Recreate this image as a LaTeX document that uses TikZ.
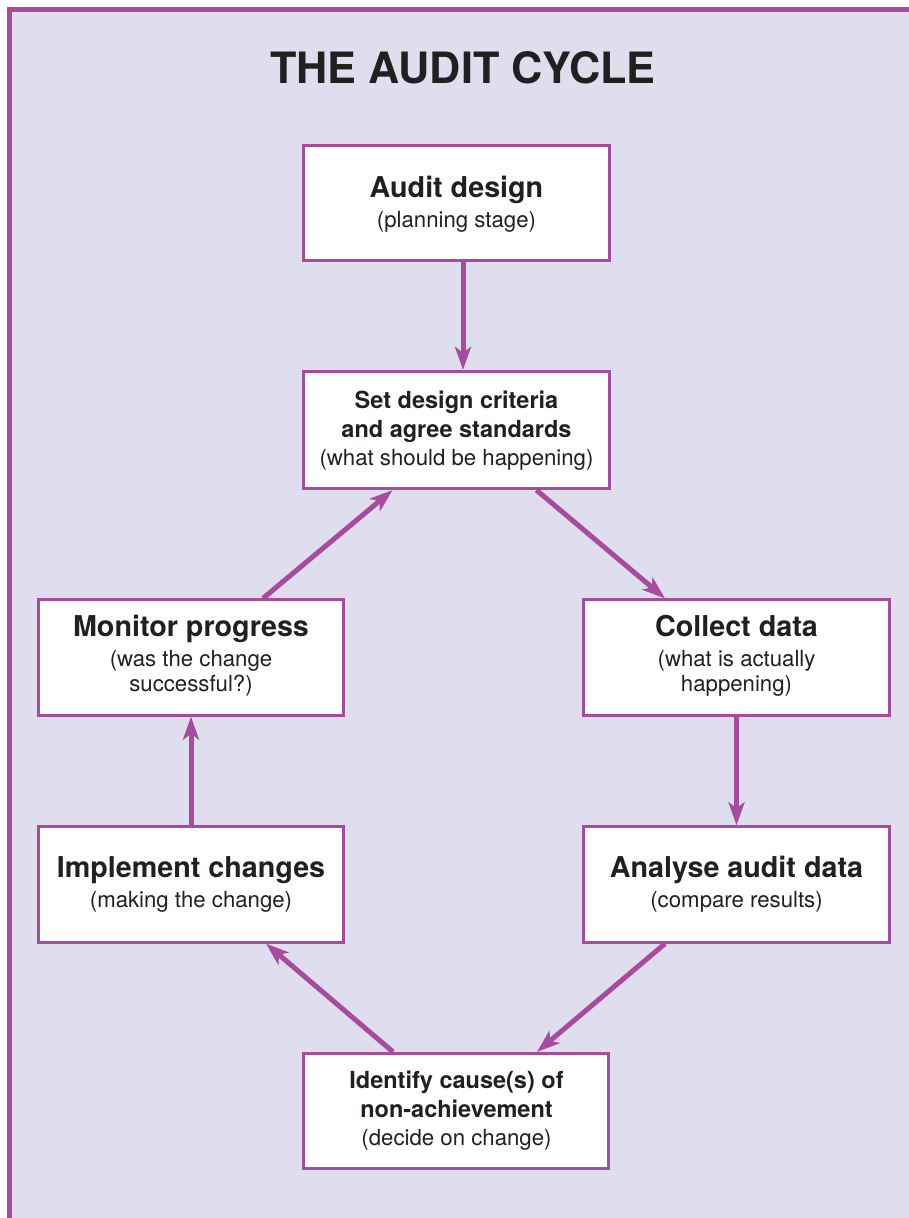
\documentclass[tikz,border=0pt]{standalone}
\usepackage{fontspec}
\setmainfont{TeX Gyre Heros}
\usetikzlibrary{arrows.meta}
\definecolor{frame}{RGB}{168,74,158}
\definecolor{bg}{RGB}{223,222,239}
\definecolor{ink}{RGB}{35,31,32}
\begin{document}
\begin{tikzpicture}[x=1pt,y=-1pt,
  box/.style={draw=frame, fill=white, line width=2.8pt, minimum width=305.5pt, minimum height=115.5pt, inner sep=0pt},
  big/.style={anchor=base, inner sep=0pt, text=ink, font=\bfseries\fontsize{28.7}{30}\selectfont},
  mid/.style={anchor=base, inner sep=0pt, text=ink, font=\bfseries\fontsize{23.5}{28}\selectfont},
  sub/.style={anchor=base, inner sep=0pt, text=ink, font=\fontsize{22.2}{25}\selectfont},
  link/.style={draw=frame, line width=5pt, -{Stealth[length=23pt,width=16pt,inset=6pt]}}]
\path[use as bounding box] (0,0) rectangle (909,1218);
\fill[white] (0,0) rectangle (909,1218);
\fill[bg] (9.5,9.5) rectangle (909,1218);
\draw[frame, line width=5.6pt] (9.5,1218) -- (9.5,9.5) -- (909,9.5);

\node[anchor=base, inner sep=0pt, text=ink, font=\bfseries\fontsize{43.2}{50}\selectfont] (title) at (463,83) {THE AUDIT CYCLE};

\node[box] (audit) at (456.5,203) {};
\node[box, minimum height=117.5pt] (set) at (456.5,430) {};
\node[box] (monitor) at (191,657.5) {};
\node[box] (collect) at (736.5,657.5) {};
\node[box] (implement) at (191,884.5) {};
\node[box] (analyse) at (736.5,884.5) {};
\node[box] (identify) at (456,1111) {};

\node[big] (audit-a) at (456.5,197) {Audit design};
\node[sub] (audit-b) at (456.5,227) {(planning stage)};

\node[mid] (set-a) at (456.5,408) {Set design criteria};
\node[mid] (set-b) at (456.5,437.5) {and agree standards};
\node[sub] (set-c) at (456.5,465) {(what should be happening)};

\node[big] (mon-a) at (191,636.7) {Monitor progress};
\node[sub] (mon-b) at (191,666.7) {(was the change};
\node[sub] (mon-c) at (191,691.7) {successful?)};

\node[big] (col-a) at (736.5,636.7) {Collect data};
\node[sub] (col-b) at (736.5,666.7) {(what is actually};
\node[sub] (col-c) at (736.5,691.7) {happening)};

\node[big] (imp-a) at (191,877.3) {Implement changes};
\node[sub] (imp-b) at (191,907.3) {(making the change)};

\node[big] (ana-a) at (736.5,877.3) {Analyse audit data};
\node[sub] (ana-b) at (736.5,907.3) {(compare results)};

\node[mid] (idf-a) at (456.5,1088.3) {Identify cause(s) of};
\node[mid] (idf-b) at (456.5,1117.7) {non-achievement};
\node[sub] (idf-c) at (456.5,1145) {(decide on change)};

\draw[link] ([xshift=6.5pt]audit.south) -- ([xshift=6.5pt]set.north);
\draw[link] ([xshift=80pt]set.south) -- ([xshift=-71.5pt]collect.north);
\draw[link] (collect.south) -- (analyse.north);
\draw[link] ([xshift=-71.5pt]analyse.south) -- ([xshift=81pt]identify.north);
\draw[link] ([xshift=-63pt]identify.north) -- ([xshift=75pt]implement.south);
\draw[link] (implement.north) -- (monitor.south);
\draw[link] ([xshift=72pt]monitor.north) -- ([xshift=-64pt]set.south);
\end{tikzpicture}
\end{document}
